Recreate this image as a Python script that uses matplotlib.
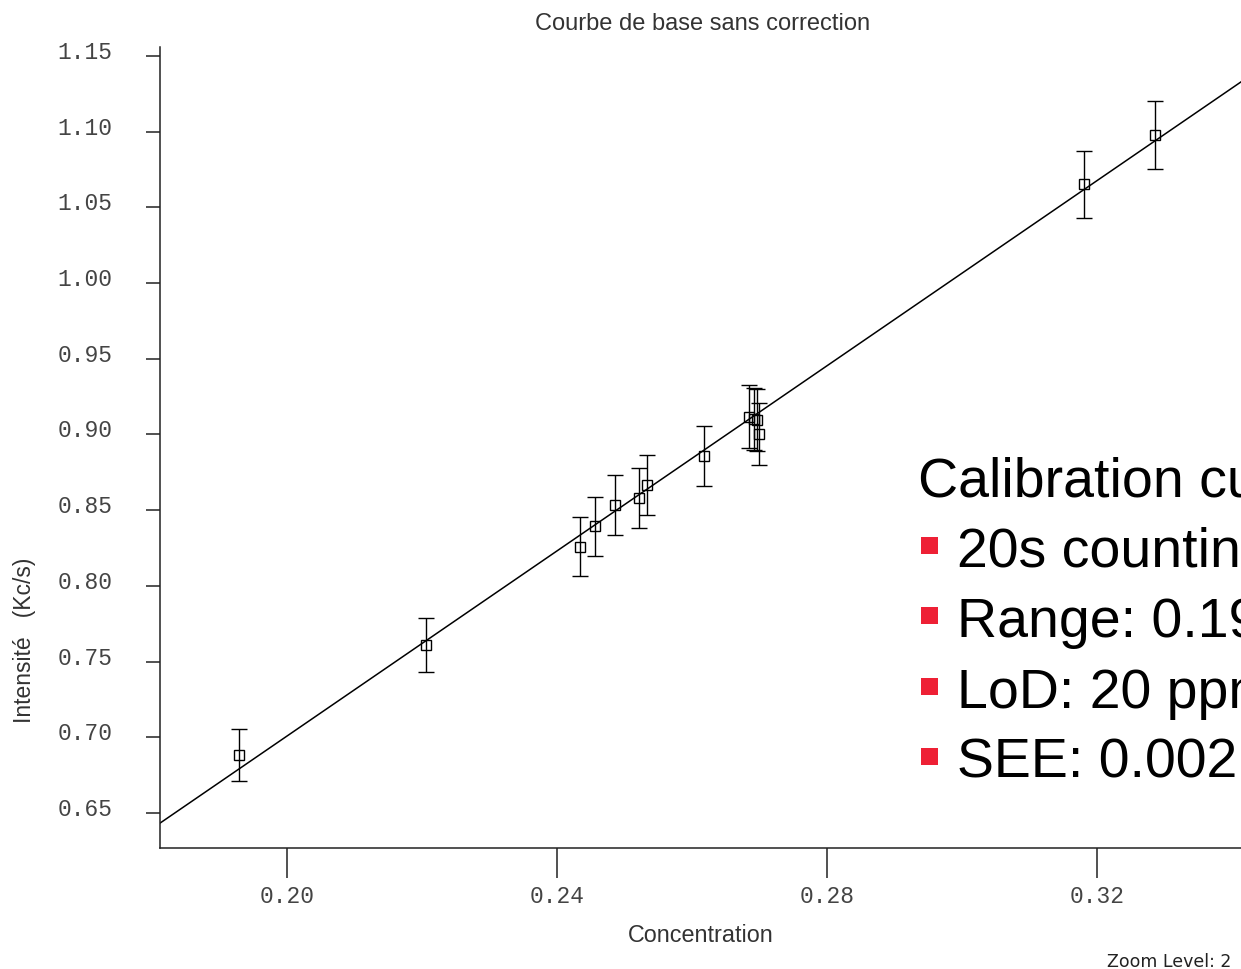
import numpy as np
import matplotlib.pyplot as plt
import matplotlib.transforms as mtransforms
from matplotlib.patches import Rectangle

# mesures (concentration, intensité, barre d'erreur)
concentration = [0.1929, 0.2206, 0.2434, 0.2456, 0.2486, 0.2521, 0.2534,
                 0.2618, 0.2684, 0.2692, 0.2696, 0.2700, 0.3180, 0.3286]
intensite = [0.6884, 0.7611, 0.8258, 0.8392, 0.8531, 0.8582, 0.8663,
             0.8857, 0.9117, 0.9104, 0.9093, 0.9005, 1.0651, 1.0978]
erreur = [0.0174, 0.0178, 0.0195, 0.0195, 0.0198, 0.0198, 0.0198,
          0.0198, 0.0208, 0.0205, 0.0205, 0.0205, 0.0222, 0.0226]

# droite de calibration
pente, ordonnee = 3.0563, 0.08955

x_ticks = [0.20, 0.24, 0.28, 0.32]
y_ticks = [0.65, 0.70, 0.75, 0.80, 0.85, 0.90, 0.95, 1.00, 1.05, 1.10, 1.15]

puces = ["20s counting time", "Range: 0.19 - 0.33 %", "LoD: 20 ppm", "SEE: 0.002 %"]

W, H = 1241, 970
fig = plt.figure(figsize=(W / 100, H / 100), dpi=100)
ax = fig.add_axes([160 / W, 1 - 849 / H, 1 - 160 / W, (849 - 48) / H])

xlim = (0.18119, 0.34133)
ylim = (0.6269, 1.1558)
xx = np.array(xlim)
ax.plot(xx, np.polyval([pente, ordonnee], xx), color="black", linewidth=1.1, zorder=2)

ax.errorbar(concentration, intensite, yerr=erreur, fmt="s", markersize=7.5,
            markerfacecolor="none", markeredgecolor="black", markeredgewidth=1.0,
            ecolor="black", elinewidth=1.0, capsize=6, capthick=1.0, zorder=3)

ax.set_xlim(xlim)
ax.set_ylim(ylim)
ax.spines["top"].set_visible(False)
ax.spines["right"].set_visible(False)
for s in ["left", "bottom"]:
    ax.spines[s].set_linewidth(1.1)
    ax.spines[s].set_color("#222222")

ax.set_xticks(x_ticks)
ax.set_xticklabels([f"{v:.2f}" for v in x_ticks])
ax.set_yticks(y_ticks)
ax.set_yticklabels([f"{v:.2f}" for v in y_ticks])
ax.tick_params(axis="x", length=21.6, width=1.1, pad=4, labelsize=16.5,
               labelcolor="#444444", color="#222222")
ax.tick_params(axis="y", length=10, width=1.1, pad=24, labelsize=16.5,
               labelcolor="#444444", color="#222222")
for lab in ax.get_xticklabels() + ax.get_yticklabels():
    lab.set_family("Liberation Mono")
offset = mtransforms.ScaledTranslation(0, 0.07, fig.dpi_scale_trans)
for lab in ax.get_yticklabels():
    lab.set_transform(lab.get_transform() + offset)

fig.text(703 / W, 1 - 24 / H, "Courbe de base sans correction", ha="center", va="center",
         fontsize=17, family="Liberation Sans", color="#333333")
fig.text(701 / W, 1 - 936 / H, "Concentration", ha="center", va="center",
         fontsize=16.8, family="Liberation Sans", color="#333333")
fig.text(25 / W, 1 - 640 / H, "Intensité   (Kc/s)", ha="center", va="center",
         rotation=90, fontsize=16.5, family="Liberation Sans", color="#333333")
fig.text(1231 / W, 1 - 962 / H, "Zoom Level: 2", ha="right", va="center",
         fontsize=12.5, family="DejaVu Sans", color="#222222")

# encadré texte
fig.text(918 / W, 1 - 497 / H, "Calibration curve", ha="left", va="baseline",
         fontsize=40, family="Liberation Sans", color="black")
for i, t in enumerate(puces):
    base = 567 + i * 70.3
    fig.text(957 / W, 1 - base / H, t, ha="left", va="baseline",
             fontsize=40, family="Liberation Sans", color="black")
    fig.patches.append(Rectangle((921 / W, 1 - (base - 12) / H), 17 / W, 17 / H,
                                 transform=fig.transFigure, facecolor="#EE2035",
                                 edgecolor="none"))

fig.savefig("out.png", dpi=100)
